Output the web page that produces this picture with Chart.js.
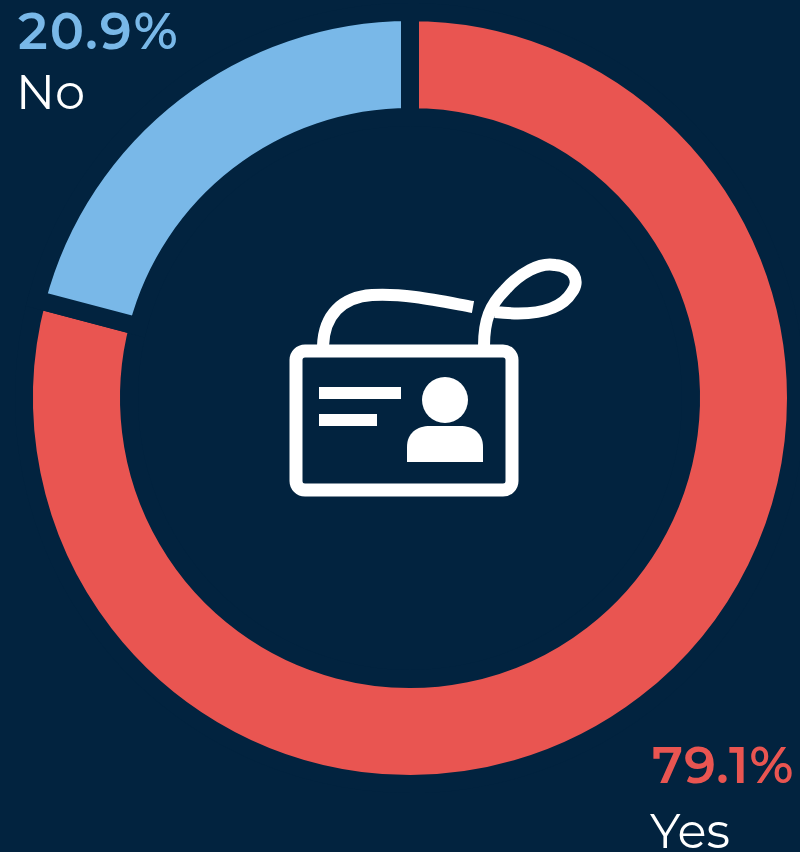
<!DOCTYPE html>
<html><head><meta charset="utf-8">
<script src="https://cdn.jsdelivr.net/npm/chart.js@4"></script>
<style>
html,body{margin:0;padding:0;background:#02233f;width:800px;height:852px;overflow:hidden}
#wrap{position:absolute;left:-40px;top:-52px;width:900px;height:904px}
.t{position:absolute;font-family:Montserrat,"Inter","Open Sans",sans-serif;white-space:nowrap;line-height:1}
.p{font-weight:600;font-size:51px}
.l{color:#fff;font-size:48px;font-weight:400}
svg{position:absolute;left:0;top:0}
</style></head><body>
<div id="wrap"><canvas id="c" width="900" height="900"></canvas></div>
<div class="t p" style="left:18px;top:6px;color:#79b8e8;letter-spacing:2px">20.9%</div>
<div class="t l" style="left:16px;top:68px">No</div>
<div class="t p" style="left:652px;top:740px;color:#e95551;letter-spacing:1px">79.1%</div>
<div class="t l" style="left:650px;top:807px">Yes</div>
<svg width="800" height="852" viewBox="0 0 800 852" fill="none">
<rect x="296" y="351" width="216" height="139" rx="9" stroke="#fff" stroke-width="13"/>
<path d="M323 346 C324 315 342 297 372 295 C405 293 440 301 473 307" stroke="#fff" stroke-width="12"/>
<path d="M484 346 C484 320 490 305 505 290 C520 273 540 262 555 265 C575 267 580 282 572 292 C560 312 530 316 495 312" stroke="#fff" stroke-width="12"/>
<rect x="319" y="387" width="82" height="12" fill="#fff"/>
<rect x="319" y="414" width="58" height="12" fill="#fff"/>
<circle cx="445" cy="400" r="23" fill="#fff"/>
<path d="M407 462 L407 447 C407 433 417 426 430 426 L460 426 C473 426 483 433 483 447 L483 462 Z" fill="#fff"/>
</svg>
<script>
const categories=["Yes","No"];
const values=[79.1,20.9];
const colors=["#e95551","#79b8e8"];
const background="#02233f";
new Chart(document.getElementById('c'),{
 type:'doughnut',
 data:{labels:categories,datasets:[{data:values,backgroundColor:colors,borderColor:background,borderWidth:18,borderJoinStyle:'miter',hoverOffset:0}]},
 options:{responsive:false,animation:false,cutout:281,
  layout:{padding:55},
  plugins:{legend:{display:false},tooltip:{enabled:false}}}
});
</script>
</body></html>
